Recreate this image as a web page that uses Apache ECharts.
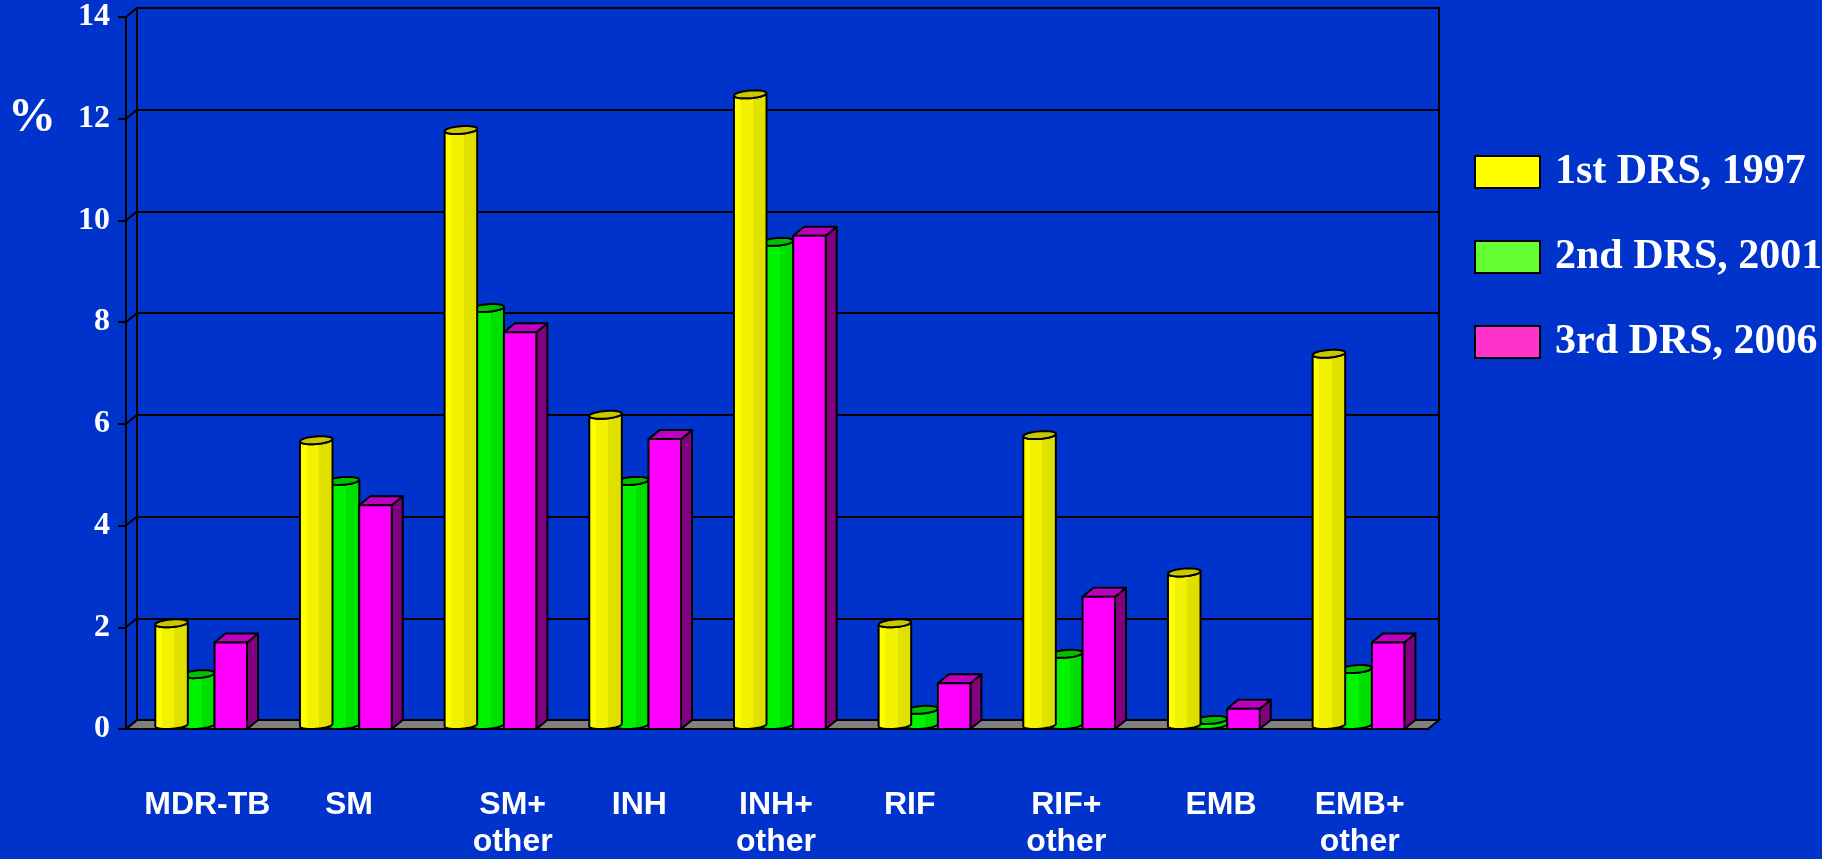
<!DOCTYPE html>
<html>
<head>
<meta charset="utf-8">
<script src="https://cdn.jsdelivr.net/npm/echarts@6/dist/echarts.min.js"></script>
<style>
  html, body { margin: 0; padding: 0; background: #0033cc; }
  #chart { width: 1822px; height: 859px; }
</style>
</head>
<body>
<div id="chart"></div>
<script>
// data
var categories = ['MDR-TB', 'SM', 'SM+\nother', 'INH', 'INH+\nother', 'RIF', 'RIF+\nother', 'EMB', 'EMB+\nother'];
var seriesNames = ['1st DRS, 1997', '2nd DRS, 2001', '3rd DRS, 2006'];
var drs1997 = [2.0, 5.6, 11.7, 6.1, 12.4, 2.0, 5.7, 3.0, 7.3];
var drs2001 = [1.0, 4.8, 8.2, 4.8, 9.5, 0.3, 1.4, 0.1, 1.1];
var drs2006 = [1.7, 4.4, 7.8, 5.7, 9.7, 0.9, 2.6, 0.4, 1.7];
var yTicks = [0, 2, 4, 6, 8, 10, 12, 14];

// look
var DX = 11, DY = 9;          // depth offset for the fake 3d
var labelNudge = [9, 6, 25, 7, -1, -12, 0, 10, 4];
var serif = 'Liberation Serif';
var sans = 'Liberation Sans';

var chart = echarts.init(document.getElementById('chart'));

function toPairs(arr) {
  return arr.map(function (v, i) { return [i, v]; });
}

// cylinder bar: offset = centre shift as a fraction of the band width
function cylinder(offset, stops, topColor) {
  return function (params, api) {
    var cat = api.value(0);
    var p = api.coord([cat, api.value(1)]);
    var p0 = api.coord([cat, 0]);
    var bw = api.size([1, 0])[0];
    var cx = p[0] + offset * bw;
    var r = 15.5, kx = 5, ky = 4;
    var tR = Math.atan2(kx, r);
    function arc(yc, from, to) {
      var pts = [];
      for (var i = 0; i <= 40; i++) {
        var t = from + (to - from) * i / 40;
        pts.push([cx + r * Math.cos(t) + kx * Math.sin(t), yc - ky * Math.sin(t)]);
      }
      return pts;
    }
    var yTop = p[1] - ky, yBase = p0[1] - ky;
    var front = arc(yTop, tR + Math.PI, tR + 2 * Math.PI);
    var base = arc(yBase, tR + Math.PI, tR + 2 * Math.PI).reverse();
    return {
      type: 'group',
      children: [{
        type: 'polygon',
        shape: { points: front.concat(base) },
        style: {
          fill: { type: 'linear', x: 0, y: 0, x2: 1, y2: 0, colorStops: stops },
          stroke: '#000', lineWidth: 2
        }
      }, {
        type: 'polygon',
        shape: { points: arc(yTop, 0, 2 * Math.PI) },
        style: { fill: topColor, stroke: '#000', lineWidth: 2 }
      }]
    };
  };
}

function box(left, right) {
  return function (params, api) {
    var cat = api.value(0);
    var p = api.coord([cat, api.value(1)]);
    var p0 = api.coord([cat, 0]);
    var bw = api.size([1, 0])[0];
    var x0 = p[0] + left * bw, x1 = p[0] + right * bw;
    var yv = p[1], y0 = p0[1];
    var st = { stroke: '#000', lineWidth: 2, lineJoin: 'round' };
    return {
      type: 'group',
      children: [{
        type: 'polygon',
        shape: { points: [[x1, yv], [x1 + DX, yv - DY], [x1 + DX, y0 - DY], [x1, y0]] },
        style: Object.assign({ fill: '#800080' }, st)
      }, {
        type: 'polygon',
        shape: { points: [[x0, yv], [x0 + DX, yv - DY], [x1 + DX, yv - DY], [x1, yv]] },
        style: Object.assign({ fill: '#c000c0' }, st)
      }, {
        type: 'rect',
        shape: { x: x0, y: yv, width: x1 - x0, height: y0 - yv },
        style: Object.assign({ fill: '#ff00ff' }, st)
      }]
    };
  };
}

var yellowStops = [
  { offset: 0, color: '#ffff00' }, { offset: 0.22, color: '#ffff00' },
  { offset: 0.22, color: '#f2f200' }, { offset: 0.58, color: '#f2f200' },
  { offset: 0.58, color: '#e2e200' }, { offset: 1, color: '#dede00' }
];
var greenStops = [
  { offset: 0, color: '#00ff00' }, { offset: 0.22, color: '#00ff00' },
  { offset: 0.22, color: '#00f400' }, { offset: 0.6, color: '#00f400' },
  { offset: 0.6, color: '#00e000' }, { offset: 1, color: '#00dc00' }
];

var xData = categories.map(function (c, i) {
  var n = labelNudge[i];
  return { value: c, textStyle: { padding: n >= 0 ? [0, 0, 0, 2 * n] : [0, -2 * n, 0, 0] } };
});

var option = {
  animation: false,
  backgroundColor: '#0033cc',
  title: {
    text: '%',
    left: 8,
    top: 95,
    padding: 0,
    textStyle: { color: '#fff', fontFamily: serif, fontWeight: 'bold', fontSize: 48, lineHeight: 48 }
  },
  legend: {
    orient: 'vertical',
    left: 1469,
    top: 146,
    itemWidth: 65,
    itemHeight: 32,
    itemGap: 43,
    icon: 'rect',
    selectedMode: false,
    textStyle: { color: '#fff', fontFamily: serif, fontWeight: 'bold', fontSize: 42, lineHeight: 32, padding: [4, 0, 0, 10] },
    data: [
      { name: seriesNames[0], itemStyle: { color: '#ffff00', borderColor: '#000', borderWidth: 2 } },
      { name: seriesNames[1], itemStyle: { color: '#66ff33', borderColor: '#000', borderWidth: 2 } },
      { name: seriesNames[2], itemStyle: { color: '#ff33cc', borderColor: '#000', borderWidth: 2 } }
    ]
  },
  grid: [
    { left: 126, top: 17, width: 1302, height: 712, outerBoundsMode: 'none' },
    { left: 137, top: 8, width: 1302, height: 712, outerBoundsMode: 'none', show: true, borderColor: '#000', borderWidth: 2, backgroundColor: 'transparent' }
  ],
  xAxis: [{
    type: 'category',
    gridIndex: 0,
    data: xData,
    axisLine: { lineStyle: { color: '#000', width: 2 } },
    axisTick: { length: 9, lineStyle: { color: '#000', width: 2 } },
    axisLabel: {
      interval: 0, margin: 58, color: '#fff',
      fontFamily: sans, fontWeight: 'bold', fontSize: 32, lineHeight: 37
    }
  }, {
    type: 'category',
    gridIndex: 1,
    data: categories,
    show: false
  }],
  yAxis: [{
    type: 'value',
    gridIndex: 0,
    min: 0, max: 14, interval: 2,
    axisLine: { show: true, lineStyle: { color: '#000', width: 2 } },
    axisTick: { show: true, length: 8, lineStyle: { color: '#000', width: 2 } },
    axisLabel: { margin: 16, color: '#fff', fontFamily: serif, fontWeight: 'bold', fontSize: 32 },
    splitLine: { show: false }
  }, {
    type: 'value',
    gridIndex: 1,
    min: 0, max: 14, interval: 2,
    axisLine: { show: false },
    axisTick: { show: false },
    axisLabel: { show: false },
    splitLine: { lineStyle: { color: '#000', width: 2 } }
  }],
  series: [{
    // floor
    type: 'custom',
    silent: true,
    z: 1,
    data: [[0, 0]],
    encode: { x: 0, y: 1 },
    renderItem: function (params, api) {
      var cs = params.coordSys;
      var yb = cs.y + cs.height;
      return {
        type: 'polygon',
        shape: { points: [[cs.x, yb], [cs.x + cs.width, yb], [cs.x + cs.width + DX, yb - DY], [cs.x + DX, yb - DY]] },
        style: { fill: '#808080', stroke: '#000', lineWidth: 2 }
      };
    }
  }, {
    // tick connectors from the front axis to the back wall
    type: 'custom',
    silent: true,
    z: 1,
    data: yTicks.map(function (v) { return [0, v]; }),
    encode: { x: 0, y: 1 },
    renderItem: function (params, api) {
      var cs = params.coordSys;
      var y = api.coord([0, api.value(1)])[1];
      return {
        type: 'line',
        shape: { x1: cs.x, y1: y, x2: cs.x + DX, y2: y - DY },
        style: { stroke: '#000', lineWidth: 2 }
      };
    }
  }, {
    name: seriesNames[0],
    type: 'custom',
    z: 3,
    itemStyle: { color: '#ffff00' },
    data: toPairs(drs1997),
    encode: { x: 0, y: 1 },
    renderItem: cylinder(-0.185, yellowStops, '#c8c800')
  }, {
    name: seriesNames[1],
    type: 'custom',
    z: 2,
    itemStyle: { color: '#66ff33' },
    data: toPairs(drs2001),
    encode: { x: 0, y: 1 },
    renderItem: cylinder(0, greenStops, '#00c000')
  }, {
    name: seriesNames[2],
    type: 'custom',
    z: 3,
    itemStyle: { color: '#ff33cc' },
    data: toPairs(drs2006),
    encode: { x: 0, y: 1 },
    renderItem: box(0.112, 0.3366)
  }]
};

chart.setOption(option);
</script>
</body>
</html>
